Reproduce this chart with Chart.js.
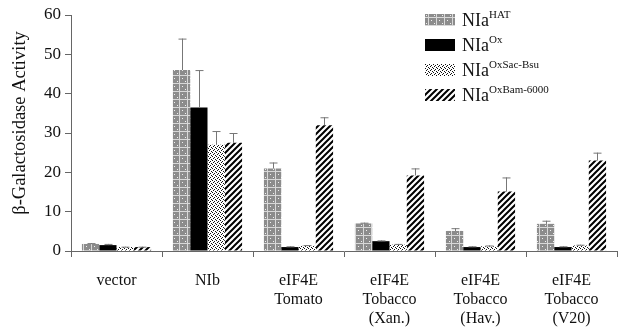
<!DOCTYPE html>
<html>
<head>
<meta charset="utf-8">
<script src="https://cdn.jsdelivr.net/npm/chart.js@4"></script>
<style>
  body { margin: 0; background: #fff; }
  #wrap { position: relative; width: 621px; height: 330px; }
  #legend { position: absolute; left: 425px; top: 7px; font-family: "Liberation Serif", serif; font-size: 18px; color: #111; }
  .row { display: flex; align-items: center; height: 25px; }
  .row canvas { width: 30px; height: 12px; margin-right: 7px; }
  .row sup { font-size: 11px; position: relative; top: -1px; }
</style>
</head>
<body>
<div id="wrap">
  <canvas id="myChart" width="621" height="330"></canvas>
  <div id="legend"></div>
</div>
<script>
const categories = [["vector"], ["NIb"], ["eIF4E", "Tomato"], ["eIF4E", "Tobacco", "(Xan.)"], ["eIF4E", "Tobacco", "(Hav.)"], ["eIF4E", "Tobacco", "(V20)"]];
const seriesNames = ["HAT", "Ox", "OxSac-Bsu", "OxBam-6000"];
const hatValues = [1.8, 46, 21, 7, 5.1, 6.9];
const hatErrors = [2.0, 54, 22.5, 7.2, 5.8, 7.7];
const oxValues = [1.5, 36.5, 1.0, 2.5, 1.0, 1.0];
const oxErrors = [1.8, 46, 1.2, 2.7, 1.2, 1.2];
const sacValues = [1.0, 27, 1.3, 1.6, 1.2, 1.4];
const sacErrors = [1.1, 30.5, 1.5, 1.8, 1.4, 1.6];
const bamValues = [1.0, 27.5, 32, 19.2, 15.1, 23];
const bamErrors = [1.1, 30, 34, 21, 18.7, 25];
const yTicks = [0, 10, 20, 30, 40, 50, 60];
const yTitle = "β-Galactosidase Activity";

function makePattern(kind) {
  const c = document.createElement("canvas");
  const g = c.getContext("2d");
  if (kind === "hat") {
    c.width = 8; c.height = 8;
    g.fillStyle = "#8c8c8c";
    g.fillRect(0, 0, 8, 8);
    g.fillStyle = "#d8d8d8";
    g.fillRect(0, 3, 8, 1);
    g.fillRect(3, 0, 1, 8);
    g.fillStyle = "#f0f0f0";
    g.fillRect(6, 6, 1, 1);
    g.fillRect(1, 1, 1, 1);
  } else if (kind === "ox") {
    c.width = 2; c.height = 2;
    g.fillStyle = "#000";
    g.fillRect(0, 0, 2, 2);
  } else if (kind === "sac") {
    c.width = 4; c.height = 4;
    g.fillStyle = "#fff";
    g.fillRect(0, 0, 4, 4);
    g.fillStyle = "#111";
    g.fillRect(0, 0, 1, 1);
    g.fillRect(2, 1, 1, 1);
    g.fillRect(1, 2, 1, 1);
    g.fillRect(3, 3, 1, 1);
  } else {
    c.width = 6; c.height = 6;
    g.fillStyle = "#fff";
    g.fillRect(0, 0, 6, 6);
    g.strokeStyle = "#000";
    g.lineWidth = 2;
    g.beginPath();
    g.moveTo(-1, 7); g.lineTo(7, -1);
    g.moveTo(-4, 4); g.lineTo(4, -4);
    g.moveTo(2, 10); g.lineTo(10, 2);
    g.stroke();
  }
  return c;
}

const ctx = document.getElementById("myChart");
const c2d = ctx.getContext("2d");
const kinds = ["hat", "ox", "sac", "bam"];
const tiles = kinds.map(makePattern);
const fills = tiles.map(t => c2d.createPattern(t, "repeat"));
const values = [hatValues, oxValues, sacValues, bamValues];
const errors = [hatErrors, oxErrors, sacErrors, bamErrors];

// error bars (upper only)
const errorBars = {
  id: "errorBars",
  afterDatasetsDraw(chart) {
    const g = chart.ctx;
    const y = chart.scales.y;
    g.save();
    g.strokeStyle = "#777";
    g.lineWidth = 1;
    chart.data.datasets.forEach((ds, i) => {
      chart.getDatasetMeta(i).data.forEach((bar, j) => {
        const top = y.getPixelForValue(errors[i][j]);
        const x = Math.round(bar.x) + 0.5;
        g.beginPath();
        g.moveTo(x, bar.y);
        g.lineTo(x, top);
        g.moveTo(x - 4, top + 0.5);
        g.lineTo(x + 4, top + 0.5);
        g.stroke();
      });
    });
    g.restore();
  }
};

// y title sits a bit above the middle of the axis in the original
const sideTitle = {
  id: "sideTitle",
  afterDraw(chart) {
    const g = chart.ctx;
    const a = chart.chartArea;
    g.save();
    g.translate(20, (a.top + a.bottom) / 2 - 10);
    g.rotate(-Math.PI / 2);
    g.font = "18.5px 'Liberation Serif'";
    g.fillStyle = "#111";
    g.textAlign = "center";
    g.textBaseline = "middle";
    g.fillText(yTitle, 0, 0);
    g.restore();
  }
};

new Chart(ctx, {
  type: "bar",
  data: {
    labels: categories,
    datasets: seriesNames.map((name, i) => ({
      label: "NIa" + name,
      data: values[i],
      backgroundColor: fills[i],
      borderWidth: 0,
      categoryPercentage: 0.76,
      barPercentage: 1
    }))
  },
  options: {
    responsive: false,
    animation: false,
    layout: { padding: { top: 15, right: 4, left: 0, bottom: 0 } },
    plugins: { legend: { display: false }, tooltip: { enabled: false } },
    scales: {
      x: {
        grid: { display: true, offset: true, drawOnChartArea: false, tickLength: 6, color: "#666" },
        border: { color: "#666" },
        ticks: { color: "#111", font: { family: "Liberation Serif", size: 16 }, padding: 14, maxRotation: 0 },
        afterFit(s) { s.height = 79; }
      },
      y: {
        min: 0, max: 60,
        afterBuildTicks(s) { s.ticks = yTicks.map(v => ({ value: v })); },
        grid: { display: true, drawOnChartArea: false, tickLength: 6, color: "#666" },
        border: { color: "#666" },
        ticks: { color: "#111", font: { family: "Liberation Serif", size: 17 }, padding: 4 },
        afterFit(s) { s.width = 71; }
      }
    }
  },
  plugins: [errorBars, sideTitle]
});

// legend with superscripts
const legend = document.getElementById("legend");
seriesNames.forEach((name, i) => {
  const row = document.createElement("div");
  row.className = "row";
  const sw = document.createElement("canvas");
  sw.width = 30; sw.height = 12;
  const sg = sw.getContext("2d");
  sg.fillStyle = sg.createPattern(tiles[i], "repeat");
  sg.fillRect(0, 0, 30, 12);
  const label = document.createElement("span");
  label.innerHTML = "NIa<sup>" + name + "</sup>";
  row.appendChild(sw);
  row.appendChild(label);
  legend.appendChild(row);
});
</script>
</body>
</html>
